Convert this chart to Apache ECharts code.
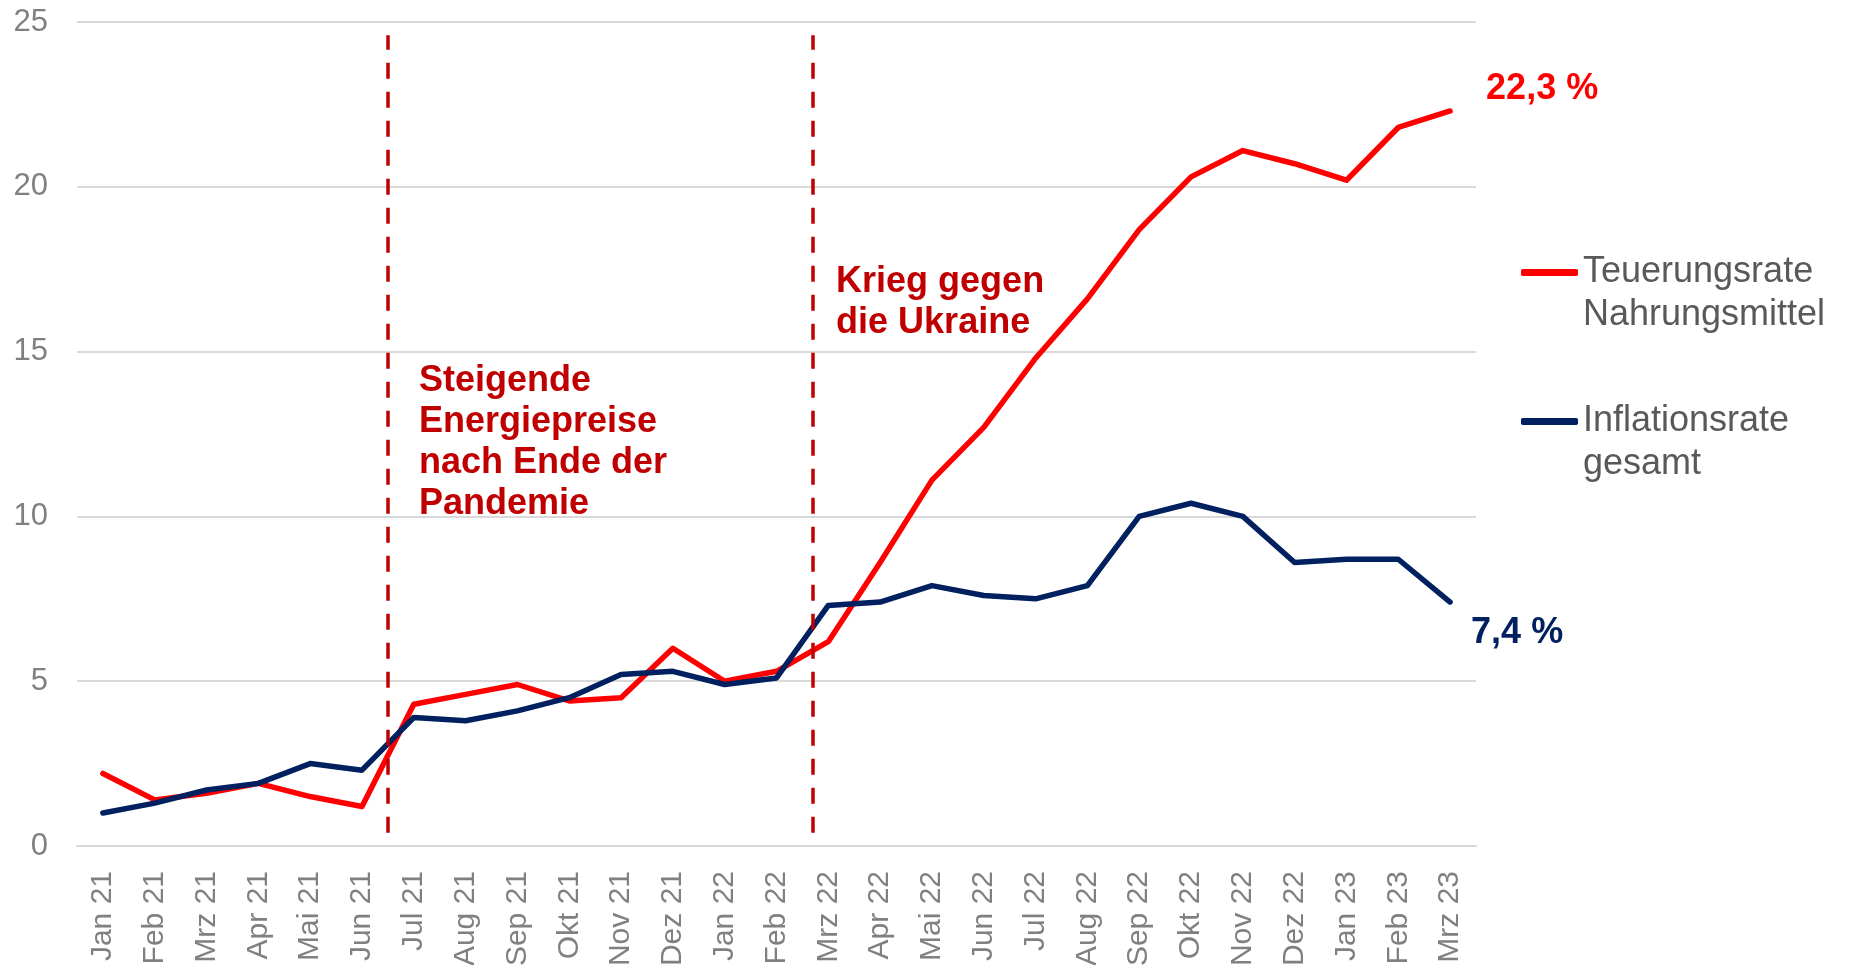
<!DOCTYPE html>
<html>
<head>
<meta charset="utf-8">
<script src="https://cdn.jsdelivr.net/npm/echarts@6/dist/echarts.min.js"></script>
<style>
html, body { margin: 0; padding: 0; background: #fff; }
#chart { width: 1851px; height: 965px; }
</style>
</head>
<body>
<div id="chart"></div>
<script>
var months = ['Jan 21','Feb 21','Mrz 21','Apr 21','Mai 21','Jun 21','Jul 21','Aug 21','Sep 21','Okt 21','Nov 21','Dez 21',
    'Jan 22','Feb 22','Mrz 22','Apr 22','Mai 22','Jun 22','Jul 22','Aug 22','Sep 22','Okt 22','Nov 22','Dez 22',
    'Jan 23','Feb 23','Mrz 23']
var foodRate = [2.2, 1.4, 1.6, 1.9, 1.5, 1.2, 4.3, 4.6, 4.9, 4.4, 4.5, 6.0,
    5.0, 5.3, 6.2, 8.6, 11.1, 12.7, 14.8, 16.6, 18.7, 20.3, 21.1, 20.7, 20.2, 21.8, 22.3]
var totalRate = [1.0, 1.3, 1.7, 1.9, 2.5, 2.3, 3.9, 3.8, 4.1, 4.5, 5.2, 5.3,
    4.9, 5.1, 7.3, 7.4, 7.9, 7.6, 7.5, 7.9, 10.0, 10.4, 10.0, 8.6, 8.7, 8.7, 7.4]
var seriesNames = ['Teuerungsrate\nNahrungsmittel', 'Inflationsrate\ngesamt']
var colors = ['#FF0000', '#002060']
// event markers: position on the category scale (between months) and text
var eventPos = [5.5, 13.7]
var eventText = ['Steigende\nEnergiepreise\nnach Ende der\nPandemie', 'Krieg gegen\ndie Ukraine']
var eventTextAt = [[6.1, 14.73], [14.15, 17.73]]

var font = 'Liberation Sans, Arial, sans-serif'
var chart = echarts.init(document.getElementById('chart'))

function pct(p){
    return String(p.value).replace('.', ',') + ' %'
}

var option = {
    backgroundColor: '#fff',
    animation: false,
    grid: { left: 77, right: 375, top: 22, bottom: 119, containLabel: false, outerBoundsMode: 'none' },
    legend: {
        orient: 'vertical',
        left: 1516,
        top: 203,
        itemWidth: 57,
        itemHeight: 7,
        itemGap: 20,
        // leading empty line keeps the icon level with the first text line
        formatter: function(name){ return '\n' + name },
        data: [
            { name: seriesNames[0], icon: 'roundRect' },
            { name: seriesNames[1], icon: 'roundRect' }
        ],
        textStyle: {
            color: '#595959',
            fontFamily: font,
            fontSize: 36,
            lineHeight: 43
        }
    },
    xAxis: [{
        type: 'category',
        data: months,
        boundaryGap: true,
        axisLine: { lineStyle: { color: '#d9d9d9', width: 2 } },
        axisTick: { show: false },
        axisLabel: {
            rotate: 90,
            margin: 25,
            color: '#808080',
            fontFamily: font,
            fontSize: 30,
            interval: 0
        }
    }, {
        type: 'value',
        min: -0.5,
        max: 26.5,
        show: false
    }],
    yAxis: {
        type: 'value',
        min: 0,
        max: 25,
        interval: 5,
        axisLine: { show: false },
        axisTick: { show: false },
        splitLine: { lineStyle: { color: '#d9d9d9', width: 2 } },
        axisLabel: {
            margin: 29,
            color: '#808080',
            fontFamily: font,
            fontSize: 31
        }
    },
    series: [{
        name: seriesNames[0],
        type: 'line',
        data: foodRate,
        color: colors[0],
        symbol: 'none',
        lineStyle: { width: 5.5, color: colors[0], cap: 'round', join: 'round' },
        endLabel: {
            show: true,
            formatter: pct,
            offset: [28, -22],
            color: colors[0],
            fontFamily: font,
            fontWeight: 'bold',
            fontSize: 36
        }
    }, {
        name: seriesNames[1],
        type: 'line',
        data: totalRate,
        color: colors[1],
        symbol: 'none',
        lineStyle: { width: 5.5, color: colors[1], cap: 'round', join: 'round' },
        endLabel: {
            show: true,
            formatter: pct,
            offset: [13, 31],
            color: colors[1],
            fontFamily: font,
            fontWeight: 'bold',
            fontSize: 36
        }
    }, {
        name: 'events',
        type: 'line',
        xAxisIndex: 1,
        data: [],
        silent: true,
        markLine: {
            silent: true,
            symbol: ['none', 'none'],
            label: { show: false },
            lineStyle: { color: '#C00000', width: 3.5, type: [16, 13] },
            data: eventPos.map(function(x){
                return [{ coord: [x, 0.4] }, { coord: [x, 24.6] }]
            })
        },
        markPoint: {
            silent: true,
            symbol: 'circle',
            symbolSize: 0,
            label: {
                show: true,
                position: [0, 0],
                align: 'left',
                verticalAlign: 'top',
                color: '#C00000',
                fontFamily: font,
                fontWeight: 'bold',
                fontSize: 36,
                lineHeight: 41,
                formatter: function(p){ return p.name }
            },
            data: eventTextAt.map(function(c, i){
                return { name: eventText[i], coord: c }
            })
        }
    }]
}
chart.setOption(option)
</script>
</body>
</html>
